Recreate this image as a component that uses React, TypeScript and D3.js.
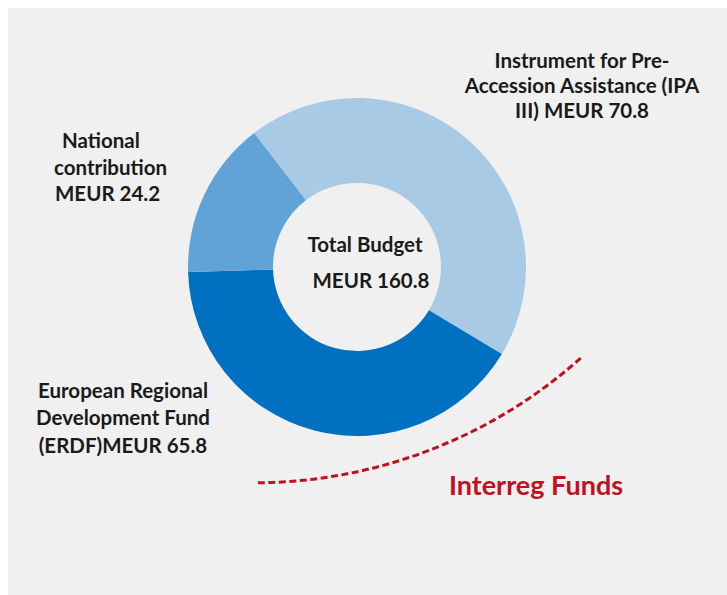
import React from "react";
import * as d3 from "d3";

// ---- data ----
const categories: string[] = [
  "Instrument for Pre-Accession Assistance (IPA III)",
  "European Regional Development Fund (ERDF)",
  "National contribution",
];
const values: number[] = [70.8, 65.8, 24.2];
const colors: string[] = ["#a9cae5", "#0070c0", "#62a3d7"];
const totalLabel: string[] = ["Total Budget", "MEUR 160.8"];
const ipaLabel: string[] = ["Instrument for Pre-", "Accession Assistance (IPA", "III) MEUR 70.8"];
const erdfLabel: string[] = ["European Regional", "Development Fund", "(ERDF)MEUR 65.8"];
const natLabel: string[] = ["National", "contribution", "MEUR 24.2"];
const annotation = "Interreg Funds";

// ---- layout ----
const W = 727;
const H = 595;
const CX = 357;
const CY = 267;
const R_OUT = 169;
const R_IN = 84;
const START_DEG = -37.5;
const FONT = "Lato, 'Open Sans', sans-serif";

export default function App() {
  const start = (START_DEG * Math.PI) / 180;
  const pie = d3
    .pie<number>()
    .sort(null)
    .value((d) => d)
    .startAngle(start)
    .endAngle(start + 2 * Math.PI);
  const arcs = pie(values);
  const arcGen = d3.arc<d3.PieArcDatum<number>>().innerRadius(R_IN).outerRadius(R_OUT);

  // dashed "Interreg Funds" bracket
  const p = d3.path();
  const acx = 253.4, acy = -9.2, ar = 492;
  p.arc(acx, acy, ar, (48.3 * Math.PI) / 180, (89.6 * Math.PI) / 180);

  const txt = { fontFamily: FONT, fontWeight: 700, fill: "#1a1a1a" } as const;

  return (
    <svg
      width={W}
      height={H}
      style={{ position: "absolute", left: 0, top: 0 }}
    >
      <rect x={0} y={0} width={W} height={H} fill="#ffffff" />
      <rect x={8} y={8} width={W - 8} height={H - 8} fill="#f0f0f0" />
      <g transform={`translate(${CX},${CY})`}>
        {arcs.map((a, i) => (
          <path key={categories[i]} d={arcGen(a) || ""} fill={colors[i]} />
        ))}
      </g>
      <path
        d={p.toString()}
        fill="none"
        stroke="#c0111f"
        strokeWidth={3}
        strokeDasharray="7 3.5"
      />
      {/* center */}
      <text x={365} y={252} textAnchor="middle" fontSize={20.5} {...txt}>
        {totalLabel[0]}
      </text>
      <text x={371} y={288} textAnchor="middle" fontSize={20.5} {...txt}>
        {totalLabel[1]}
      </text>
      {/* IPA */}
      {ipaLabel.map((s, i) => (
        <text key={s} x={582} y={68 + i * 25} textAnchor="middle" fontSize={20.5} {...txt}>
          {s}
        </text>
      ))}
      {/* National */}
      {natLabel.map((s, i) => (
        <text key={s} x={[62, 54, 55][i]} y={148 + i * 26.7} textAnchor="start" fontSize={20.5} {...txt}>
          {s}
        </text>
      ))}
      {/* ERDF */}
      {erdfLabel.map((s, i) => (
        <text key={s} x={123} y={398 + i * 27.3} textAnchor="middle" fontSize={20.5} {...txt}>
          {s}
        </text>
      ))}
      <text x={536} y={495} textAnchor="middle" fontSize={27} fontFamily={FONT} fontWeight={700} fill="#c0111f">
        {annotation}
      </text>
    </svg>
  );
}
